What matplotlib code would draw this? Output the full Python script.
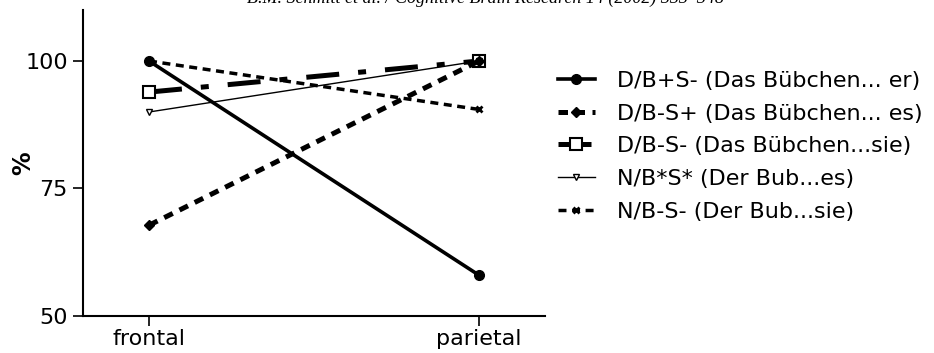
import matplotlib.pyplot as plt

plt.rcParams['font.family'] = ['DejaVu Sans']

sites = ['frontal', 'parietal']
labels = ['D/B+S- (Das Bübchen... er)',
          'D/B-S+ (Das Bübchen... es)',
          'D/B-S- (Das Bübchen...sie)',
          'N/B*S* (Der Bub...es)',
          'N/B-S- (Der Bub...sie)']
db_plus_s_minus = [100, 58]
db_minus_s_plus = [67.8, 100]
db_minus_s_minus = [93.9, 100]
nb_star_s_star = [90.0, 100]
nb_minus_s_minus = [100, 90.5]

series = [db_plus_s_minus, db_minus_s_plus, db_minus_s_minus, nb_star_s_star, nb_minus_s_minus]
styles = [
    dict(ls='-', lw=2.6, marker='o', ms=7, mfc='black', mec='black', zorder=3),
    dict(ls=(0, (1.9, 1.5)), lw=3.6, marker='D', ms=5, mfc='black', mec='black', zorder=4),
    dict(ls=(0, (6.6, 3.8, 1.6, 3.8)), lw=3.6, marker='s', ms=8.5, mfc='white', mec='black', mew=1.5, zorder=2),
    dict(ls='-', lw=1, marker='v', ms=5, mfc='white', mec='black', zorder=3),
    dict(ls=(0, (2.3, 1.6)), lw=2.5, marker='x', ms=5, mew=2, mec='black', zorder=3),
]

fig = plt.figure(figsize=(9.34, 3.53), dpi=100)
ax = fig.add_axes([0.0889, 0.1048, 0.4946, 0.8669])

x = list(range(len(sites)))
for vals, lab, st in zip(series, labels, styles):
    ax.plot(x, vals, color='black', label=lab, clip_on=False, **st)

ax.set_xlim(-0.2, 1.2)
ax.set_ylim(50, 110)
ax.set_xticks(x)
ax.set_xticklabels(sites)
ax.set_yticks([50, 75, 100])
ax.tick_params(axis='both', labelsize=16, length=7, width=1.2, direction='out', pad=4)
ax.tick_params(axis='x', pad=2)
ax.set_ylabel('%', fontsize=17, fontweight='bold', va='center')
ax.yaxis.set_label_coords(-60 / 462, 0.5)
for s in ['top', 'right']:
    ax.spines[s].set_visible(False)
for s in ['left', 'bottom']:
    ax.spines[s].set_linewidth(1.5)

leg = ax.legend(loc='upper left', bbox_to_anchor=(1.028, 0.801), frameon=False,
                fontsize=16, numpoints=1, handlelength=1.67, handletextpad=1.0,
                labelspacing=0.57, borderpad=0, borderaxespad=0)

fig.text(0.52, 0.991, 'B.M. Schmitt et al. / Cognitive Brain Research 14 (2002) 333–348',
         ha='center', va='baseline', fontsize=13, style='italic', family='Liberation Serif')

fig.savefig('out.png', dpi=100)
